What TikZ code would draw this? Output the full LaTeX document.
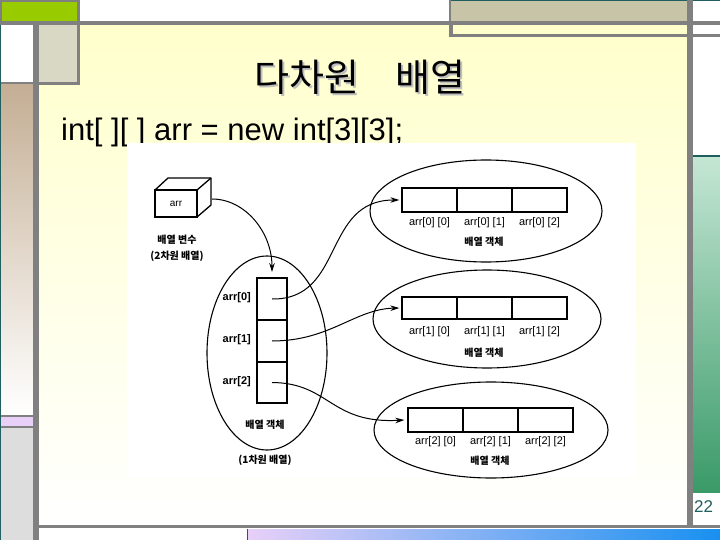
\documentclass[tikz,border=0pt]{standalone}
\usepackage{fontspec}
\setmainfont{Liberation Sans}
\newfontfamily\kr{Noto Sans CJK KR}
\usetikzlibrary{arrows.meta,shapes.geometric}
\definecolor{greenc}{HTML}{99CC00}
\definecolor{grayc}{HTML}{808080}
\definecolor{tansq}{HTML}{D8D8C4}
\definecolor{tanr}{HTML}{C8C4A8}
\definecolor{brownc}{HTML}{C4AE94}
\definecolor{pinkc}{HTML}{E8D0F8}
\definecolor{lgray}{HTML}{DDDDDD}
\definecolor{tealc}{HTML}{1F5F5F}
\definecolor{lgreen}{HTML}{C4E6D4}
\definecolor{dgreen}{HTML}{3A9A68}
\definecolor{bluec}{HTML}{1890F0}
\definecolor{yel}{HTML}{FFFFCC}
\newcommand{\shadowtext}[1]{\makebox[0pt][l]{\hspace{2pt}\raisebox{-2pt}{\textcolor{black!25}{#1}}}#1}
\begin{document}
\begin{tikzpicture}[x=1pt,y=-1pt,
  cell/.style={draw, line width=1.3pt, minimum width=55pt, minimum height=24pt, inner sep=0pt},
  vcell/.style={draw, line width=1.3pt, minimum width=30pt, minimum height=42pt, inner sep=0pt},
  ell/.style={draw, ellipse, line width=1.1pt, inner sep=0pt},
  lab/.style={font=\fontsize{11}{13}\selectfont, inner sep=0pt},
  blab/.style={font=\bfseries\fontsize{11}{13}\selectfont, inner sep=0pt},
  klab/.style={font=\kr\bfseries\fontsize{10}{12}\selectfont, inner sep=0pt},
  conn/.style={line width=1pt, -{Stealth[length=9pt,width=5.5pt]}}]
\useasboundingbox (0,0) rectangle (720,540);
% ---------- slide frame ----------
\fill[white] (0,0) rectangle (720,540);
\shade[top color=yel, middle color=yel!60!white, bottom color=white] (39,25) rectangle (687,525);
% left column
\shade[top color=brownc, middle color=brownc!35!white, bottom color=white] (0,84) rectangle (33,415);
\fill[grayc] (0,82) rectangle (33,84);
\fill[grayc] (0,415) rectangle (33,417);
\fill[pinkc] (0,417) rectangle (33,426);
\fill[grayc] (0,426) rectangle (33,428);
\fill[lgray] (0,428) rectangle (33,540);
\fill[tealc] (0,25) rectangle (1,540);
\fill[grayc] (33,21) rectangle (39,540);
% top left green
\fill[grayc] (0,0) rectangle (80,25);
\fill[greenc] (2,2) rectangle (77,21);
\fill[grayc] (0,21) rectangle (720,25);
\fill[grayc] (39,25) rectangle (80,85);
\fill[tansq] (39,25) rectangle (77,82);
% top right
\fill[grayc] (449,0) rectangle (687,37);
\fill[tanr] (451,1) rectangle (687,21);
\fill[tealc] (451,0) rectangle (720,1);
\fill[yel] (453,25) rectangle (687,34);
\fill[grayc] (449,34) rectangle (720,37);
\fill[grayc] (449,21) rectangle (720,25);
% right column
\fill[tealc] (690,155) rectangle (720,158);
\shade[top color=lgreen, bottom color=dgreen] (693,158) rectangle (720,492);
\fill[grayc] (687,0) rectangle (693,528);
\fill[grayc] (33,525) rectangle (720,528);
\shade[left color=pinkc, right color=bluec] (247,529) rectangle (720,540);
\draw[tealc, line width=0.8pt] (247,529) -- (247,540);
\node[text=tealc, font=\fontsize{17}{17}\selectfont, anchor=west, inner sep=0pt] (pg) at (694,507) {22};
% ---------- title ----------
\node[font=\kr\fontsize{38}{38}\selectfont, inner sep=0pt] (title) at (360,78) {\shadowtext{다차원\hspace{36pt}배열}};
\node[font=\fontsize{31}{31}\selectfont, anchor=base west, inner sep=0pt] (code) at (61,141) {int[ ][ ] arr = new int[3][3];};
% ---------- diagram picture ----------
\fill[white] (127,143) rectangle (636,478);
% 3D box
\draw[line width=1.3pt, line join=round] (155,190) -- (168,178) -- (211,178) -- (211,205) -- (197,217);
\draw[line width=1.3pt] (197,190) -- (211,178);
\node[draw, line width=1.3pt, minimum width=42pt, minimum height=27pt, inner sep=0pt, font=\fontsize{10}{12}\selectfont] (box) at (176,203.5) {arr};
\coordinate (boxr) at (212,199);
\node[klab] (bv1) at (177,240) {배열 변수};
\node[klab] (bv2) at (177,256) {(2차원 배열)};
% 1D array
\node[ell, minimum width=120pt, minimum height=194pt] (e0) at (267,353) {};
\node[vcell] (c0) at (272,299) {};
\node[vcell] (c1) at (272,341) {};
\node[vcell, minimum height=41pt] (c2) at (272,382.5) {};
\node[blab, anchor=east] (l0) at (251,298) {arr[0]};
\node[blab, anchor=east] (l1) at (251,340) {arr[1]};
\node[blab, anchor=east] (l2) at (251,382) {arr[2]};
\node[klab] (k0) at (265,425) {배열 객체};
\node[klab] (k0b) at (265,460) {(1차원 배열)};
\coordinate (c0top) at (272,272);
% row 0
\node[ell, minimum width=232pt, minimum height=102pt] (e1) at (486,211) {};
\node[cell] (r00) at (429.5,200) {};
\node[cell] (r01) at (484.5,200) {};
\node[cell] (r02) at (539.5,200) {};
\node[lab] at (429.5,223) {arr[0] [0]};
\node[lab] at (484.5,223) {arr[0] [1]};
\node[lab] at (539.5,223) {arr[0] [2]};
\node[klab] (k1) at (484,242) {배열 객체};
% row 1
\node[ell, minimum width=228pt, minimum height=98pt] (e2) at (487,319) {};
\node[cell, minimum height=22pt] (r10) at (429.5,308) {};
\node[cell, minimum height=22pt] (r11) at (484.5,308) {};
\node[cell, minimum height=22pt] (r12) at (539.5,308) {};
\node[lab] at (429.5,332) {arr[1] [0]};
\node[lab] at (484.5,332) {arr[1] [1]};
\node[lab] at (539.5,332) {arr[1] [2]};
\node[klab] (k2) at (484,353) {배열 객체};
% row 2
\node[ell, minimum width=234pt, minimum height=96pt] (e3) at (491,430) {};
\node[cell] (r20) at (435.5,420) {};
\node[cell] (r21) at (490.5,420) {};
\node[cell] (r22) at (545.5,420) {};
\node[lab] at (435.5,442) {arr[2] [0]};
\node[lab] at (490.5,442) {arr[2] [1]};
\node[lab] at (545.5,442) {arr[2] [2]};
\node[klab] (k3) at (490,461) {배열 객체};
% connectors
\draw[conn] (boxr) .. controls (245,199) and (272,232) .. (c0top);
\draw[conn] (c0.center) .. controls (345,300) and (322,200) .. ([xshift=-2pt]r00.west);
\draw[conn] (c1.center) .. controls (330,341) and (355,309) .. ([xshift=-2pt]r10.west);
\draw[conn] (c2.center) .. controls (330,383) and (330,424) .. ([xshift=-3pt]r20.west);
\end{tikzpicture}
\end{document}
